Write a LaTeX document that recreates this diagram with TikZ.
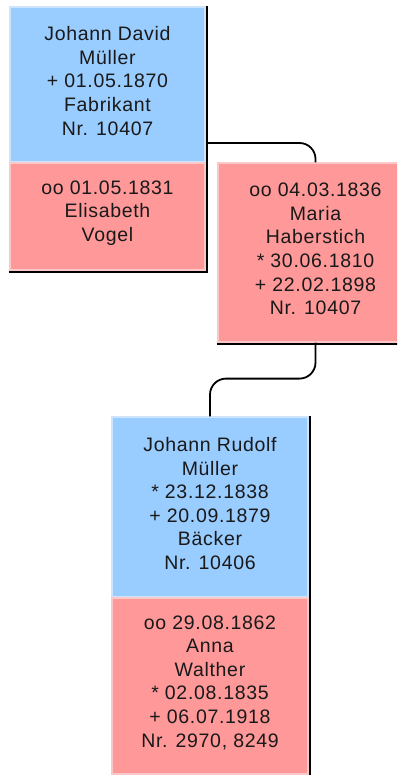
\documentclass[tikz,border=0pt]{standalone}
\usepackage{fontspec}
\setmainfont{Liberation Sans}[LetterSpace=3.5]
\definecolor{boxblue}{RGB}{153,204,255}
\definecolor{boxpink}{RGB}{255,153,153}
\definecolor{rimblue}{RGB}{205,228,252}
\definecolor{rimpink}{RGB}{250,200,200}
\tikzset{
  bluebox/.style={rectangle, fill=boxblue, draw=rimblue, line width=1.2pt, inner sep=0pt},
  pinkbox/.style={rectangle, fill=boxpink, draw=rimpink, line width=1.2pt, inner sep=0pt},
  txt/.style={align=center, inner sep=0pt, font=\fontsize{19.5}{23.6}\selectfont, text=black!90},
  conn/.style={draw=black, line width=1.8pt, rounded corners=16pt},
  shd/.style={draw=black, line width=1.5pt}
}
\begin{document}
\begin{tikzpicture}[x=1pt,y=-1pt]
\useasboundingbox (0,0) rectangle (397,775);
\clip (0,0) rectangle (397,775);
% boxes
\node[bluebox, minimum width=195pt, minimum height=155pt] (b1) at (107.5,84.5) {};
\node[pinkbox, minimum width=195pt, minimum height=107pt] (b1p) at (107.5,216.5) {};
\node[pinkbox, minimum width=195pt, minimum height=179pt] (b2) at (315.5,252.5) {};
\node[bluebox, minimum width=196pt, minimum height=180pt] (b3) at (210,507) {};
\node[pinkbox, minimum width=196pt, minimum height=176pt] (b3p) at (210,686) {};
% shadows
\draw[shd] ([xshift=1.3pt]b1.north east) |- ([yshift=-1.3pt]b1p.south west);
\draw[shd] ([yshift=-1.3pt]b2.south west) -| ([xshift=1.3pt]b2.north east);
\draw[shd] ([xshift=1.3pt]b3.north east) -- ([xshift=1.3pt,yshift=-3pt]b3p.south east);
% texts
\node[txt] (b1t) at ([yshift=3.5pt]b1.center) {Johann David\\Müller\\+ 01.05.1870\\Fabrikant\\Nr. 10407};
\node[txt] (b1pt) at ([yshift=3.5pt]b1p.center) {oo 01.05.1831\\Elisabeth\\Vogel};
\node[txt] (b2t) at ([yshift=3.5pt]b2.center) {oo 04.03.1836\\Maria\\Haberstich\\* 30.06.1810\\+ 22.02.1898\\Nr. 10407};
\node[txt] (b3t) at ([yshift=3.5pt]b3.center) {Johann Rudolf\\Müller\\* 23.12.1838\\+ 20.09.1879\\Bäcker\\Nr. 10406};
\node[txt] (b3pt) at ([yshift=3.5pt]b3p.center) {oo 29.08.1862\\Anna\\Walther\\* 02.08.1835\\+ 06.07.1918\\Nr. 2970, 8249};
% connectors
\draw[conn] ([yshift=-58.5pt,xshift=1.3pt]b1.east) -| (b2.north);
\draw[conn] (b2.south) -- ++(0,36) -| (b3.north);
\end{tikzpicture}
\end{document}
